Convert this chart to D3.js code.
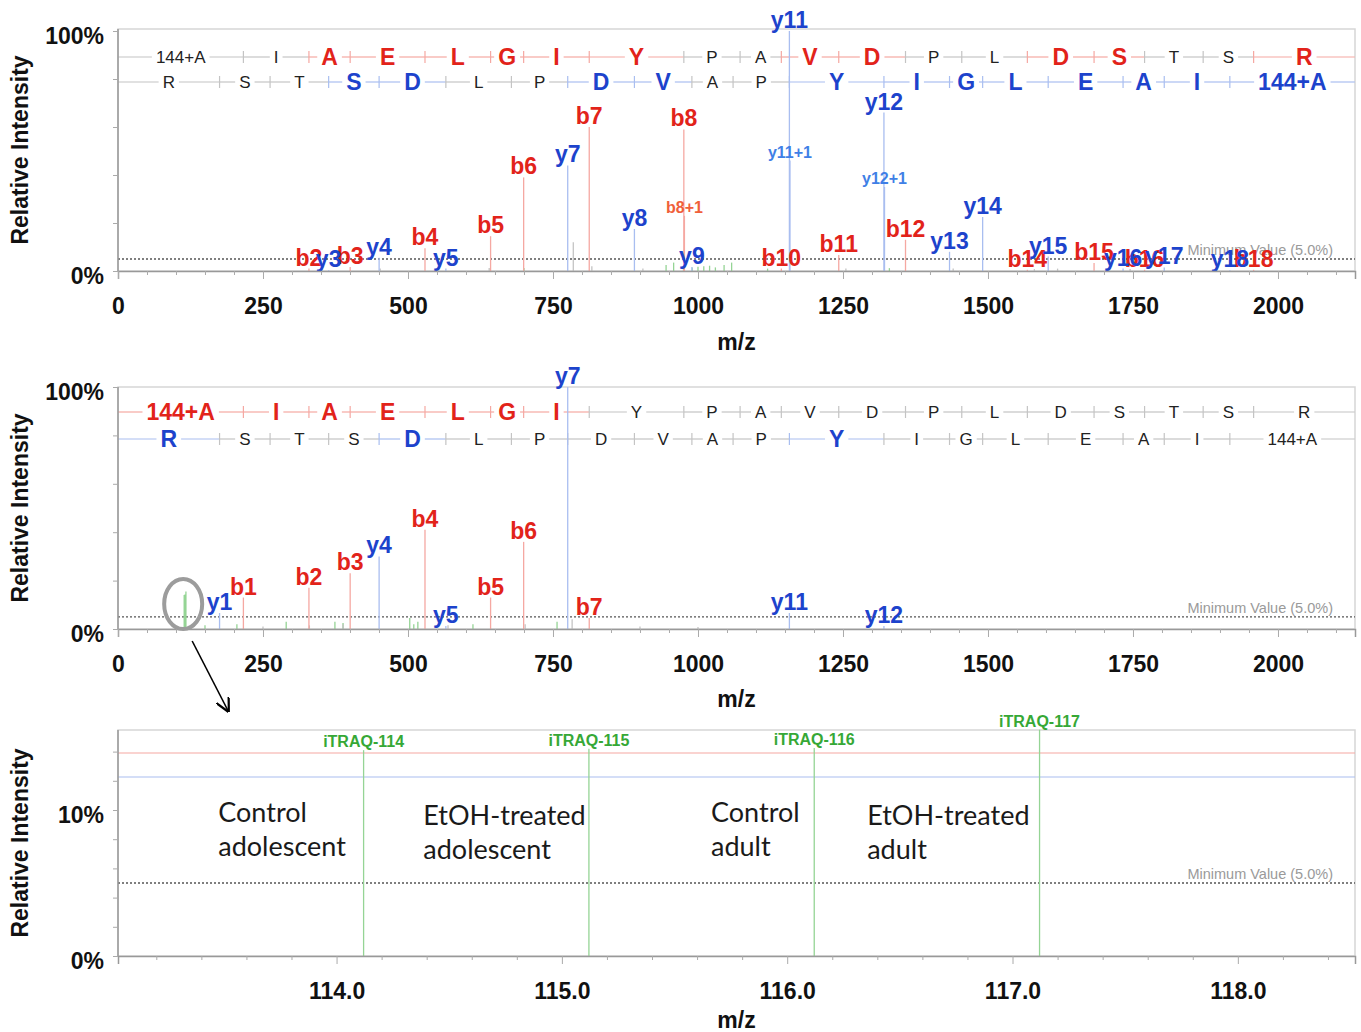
<!DOCTYPE html>
<html>
<head>
<meta charset="utf-8">
<script src="https://cdn.jsdelivr.net/npm/d3@7"></script>
<style>
  body { margin: 0; background: #fff; }
  svg { display: block; font-family: "Liberation Sans", Arial, sans-serif; }
</style>
</head>
<body>
<div id="chart"></div>
<script>
// peptide (iTRAQ-labelled N-term) and fragment m/z
const residues = ['144+A', 'I', 'A', 'E', 'L', 'G', 'I', 'Y', 'P', 'A', 'V', 'D', 'P', 'L', 'D', 'S', 'T', 'S', 'R'];
const bIonMz = [216.2, 329.2, 400.3, 529.3, 642.4, 699.4, 812.5, 975.6, 1072.6, 1143.7, 1242.7, 1357.8, 1454.8, 1567.9, 1682.9, 1770.0, 1871.0, 1958.0];
const yIonMz = [175.1, 262.2, 363.2, 450.2, 565.3, 678.3, 775.4, 890.4, 989.5, 1060.5, 1157.6, 1320.6, 1433.7, 1490.8, 1603.8, 1732.9, 1803.9, 1917.0];
const precursorMz = 2132.5;

// spectrum 1
const topBIons = [2, 3, 4, 5, 6, 7, 8, 10, 11, 12, 14, 15, 16, 18];
const topBInt = [1, 1.7, 9.5, 14.5, 39, 60, 59, 1, 6.7, 13, 0.5, 3.3, 0.5, 0.5];
const topYIons = [3, 4, 5, 7, 8, 9, 11, 12, 13, 14, 15, 16, 17, 18];
const topYInt = [0.3, 5.5, 1, 44, 17.5, 1.7, 100, 66, 8, 22.5, 6, 1, 1.5, 0.3];
const topIsoLabels = ['b8+1', 'y11+1', 'y12+1'];
const topIsoMz = [976.6, 1158.6, 1321.6];
const topIsoInt = [23, 46, 35];
const topGreenMz = [700, 945, 958, 975, 990, 1000, 1010, 1020, 1030, 1045, 1058, 1120, 1330];
const topGreenInt = [1.2, 2.5, 3.5, 1.5, 1.5, 1.8, 2, 2.2, 1.5, 2.5, 3.5, 1, 1.2];
const topGrayMz = [452, 640, 785, 817, 905, 1255, 1440, 1580, 1620, 1745];
const topGrayInt = [1, 1.2, 12, 2, 1, 1, 1, 0.8, 1, 0.8];

// spectrum 2
const midBIons = [1, 2, 3, 4, 5, 6, 7];
const midBInt = [13, 17, 23, 41, 13, 36, 4.5];
const midYIons = [1, 4, 5, 7, 11, 12];
const midYInt = [6.6, 30, 1.2, 100, 6.6, 1.2];
const midGreenMz = [150, 205, 290, 374, 388, 503, 510, 517, 612, 757];
const midGreenInt = [1.5, 2, 3, 3, 2.5, 4.5, 2, 3, 2, 3];
const midGrayMz = [250, 330, 388, 569, 702, 783, 900, 1000];
const midGrayInt = [1, 1.5, 2, 1.5, 2, 4, 1, 0.8];

// reporter ions
const itraqLabels = ['iTRAQ-114', 'iTRAQ-115', 'iTRAQ-116', 'iTRAQ-117'];
const itraqMz = [114.12, 115.12, 116.12, 117.12];
const itraqInt = [14.1, 14.2, 14.25, 15.5];
const groupLines = [['Control', 'adolescent'], ['EtOH-treated', 'adolescent'], ['Control', 'adult'], ['EtOH-treated', 'adult']];

const minValue = 5;

const W = 1361, H = 1032;
const L = 118, R = 1355;
const RED = '#e2231a', BLUE = '#1d43cc';
const RED_L = '#f5a8a2', BLUE_L = '#a9bef0', GREEN_L = '#95d495', GRAY_L = '#c4c4c4';

const svg = d3.select('#chart').append('svg').attr('width', W).attr('height', H);
const defs = svg.append('defs');
defs.append('marker').attr('id', 'arrow').attr('viewBox', '0 0 10 10').attr('refX', 9).attr('refY', 5)
  .attr('markerWidth', 14).attr('markerHeight', 14).attr('markerUnits', 'userSpaceOnUse').attr('orient', 'auto')
  .append('path').attr('d', 'M0,0 L10,5 L0,10').attr('fill', 'none').attr('stroke', '#000').attr('stroke-width', 1.6);

let clipId = 0;

function drawPanel(cfg) {
  const g = svg.append('g');
  const x = d3.scaleLinear().domain(cfg.xDomain).range([L, R]);
  const y = d3.scaleLinear().domain([0, cfg.yRef]).range([cfg.base, cfg.yRefPx]);

  // frame
  g.append('rect').attr('x', L).attr('y', cfg.borderTop).attr('width', R - L).attr('height', cfg.base - cfg.borderTop)
    .attr('fill', 'none').attr('stroke', '#d6d6d6').attr('stroke-width', 1.5);

  const cid = 'clip' + (clipId++);
  defs.append('clipPath').attr('id', cid).append('rect')
    .attr('x', L).attr('y', cfg.borderTop).attr('width', R - L).attr('height', cfg.base - cfg.borderTop);

  // sequence ladders
  const seqG = g.append('g').attr('clip-path', `url(#${cid})`);
  drawRow(seqG, x, cfg.rowY[0], residues, [0, ...bIonMz, precursorMz], cfg.bIons, RED, RED_L);
  drawRow(seqG, x, cfg.rowY[1], residues.slice().reverse(), [0, ...yIonMz, precursorMz], cfg.yIons, BLUE, BLUE_L);

  // minimum value line
  g.append('line').attr('x1', L).attr('x2', R).attr('y1', y(minValue)).attr('y2', y(minValue))
    .attr('stroke', '#555').attr('stroke-width', 1.3).attr('stroke-dasharray', '2,2');
  g.append('text').attr('x', 1333).attr('y', y(minValue) - 4).attr('text-anchor', 'end')
    .attr('font-size', 14.5).attr('fill', '#9a9a9a').text('Minimum Value (5.0%)');

  // peaks
  const peaks = [];
  (cfg.noise || []).forEach(n => n.mz.forEach((m, i) => peaks.push({ mz: m, v: n.int[i], color: n.color })));
  cfg.bIons.forEach((n, i) => peaks.push({ mz: bIonMz[n - 1], v: cfg.bInt[i], color: RED_L, label: 'b' + n, lc: RED, fs: 23 }));
  cfg.yIons.forEach((n, i) => peaks.push({ mz: yIonMz[n - 1], v: cfg.yInt[i], color: BLUE_L, label: 'y' + n, lc: BLUE, fs: 23 }));
  (cfg.extra || []).forEach(p => peaks.push(p));

  const visible = peaks.filter(p => p.mz >= cfg.xDomain[0] && p.mz <= cfg.xDomain[1]);
  g.append('g').selectAll('line').data(visible).join('line')
    .attr('x1', d => x(d.mz)).attr('x2', d => x(d.mz))
    .attr('y1', cfg.base).attr('y2', d => y(d.v))
    .attr('stroke', d => d.color).attr('stroke-width', 1.3);
  g.append('g').selectAll('text').data(visible.filter(d => d.label)).join('text')
    .attr('x', d => x(d.mz)).attr('y', d => y(d.v) - 3)
    .attr('text-anchor', 'middle').attr('font-weight', 'bold')
    .attr('font-size', d => d.fs).attr('fill', d => d.lc)
    .text(d => d.label);

  // x axis
  const xMajor = d3.axisBottom(x).tickValues(cfg.xMajor).tickSize(8).tickFormat(cfg.xFormat);
  const xMinor = d3.axisBottom(x).tickValues(cfg.xMinor).tickSize(4).tickFormat('');
  const xa = g.append('g').attr('transform', `translate(0,${cfg.base})`).call(xMajor);
  g.append('g').attr('transform', `translate(0,${cfg.base})`).call(xMinor).select('.domain').remove();
  xa.select('.domain').attr('stroke', '#999').attr('stroke-width', 1.5);
  g.selectAll('.tick line').attr('stroke', '#aaa');
  xa.selectAll('text').attr('y', 43).attr('dy', 0).attr('font-size', 23).attr('font-weight', 'bold')
    .attr('fill', '#111').attr('font-family', '"Liberation Sans", Arial, sans-serif');

  // y axis
  const ya = g.append('g').attr('transform', `translate(${L},0)`)
    .call(d3.axisLeft(y).tickValues(cfg.yTicks).tickSize(5).tickPadding(9)
      .tickFormat(v => cfg.yLabels.includes(v) ? v + '%' : ''));
  ya.select('.domain').attr('stroke', '#999').attr('stroke-width', 1.5)
    .attr('d', `M0,${cfg.borderTop}V${cfg.base}`);
  ya.selectAll('.tick line').attr('stroke', '#aaa');
  ya.selectAll('text').attr('dy', '0.55em').attr('font-size', 23).attr('font-weight', 'bold')
    .attr('fill', '#111').attr('font-family', '"Liberation Sans", Arial, sans-serif');

  // titles
  g.append('text').attr('transform', `translate(28,${(cfg.borderTop + cfg.base) / 2}) rotate(-90)`)
    .attr('text-anchor', 'middle').attr('font-size', 23).attr('font-weight', 'bold').attr('fill', '#111')
    .text('Relative Intensity');
  g.append('text').attr('x', (L + R) / 2).attr('y', cfg.base + cfg.mzDy).attr('text-anchor', 'middle')
    .attr('font-size', 23).attr('font-weight', 'bold').attr('fill', '#111').text('m/z');

  return { x, y, g };
}

function drawRow(g, x, cy, names, bounds, observed, strong, light) {
  const obs = new Set([0, names.length, ...observed]);
  names.forEach((name, i) => {
    const hi = obs.has(i) && obs.has(i + 1);
    const x0 = x(bounds[i]), x1 = x(bounds[i + 1]);
    const mid = (x0 + x1) / 2;
    const lc = hi ? light : GRAY_L;
    let w = 0;
    if (mid > L && mid < R) {
      const t = g.append('text').attr('x', mid).attr('y', cy).attr('dy', '0.36em').attr('text-anchor', 'middle')
        .attr('font-size', hi ? 23 : 17).attr('font-weight', hi ? 'bold' : 'normal')
        .attr('fill', hi ? strong : '#222').text(name);
      w = t.node().getComputedTextLength() + 8;
    }
    const a = Math.max(x0, L - 2), b = Math.min(x1, R + 2);
    g.insert('line', 'text').attr('x1', a).attr('x2', Math.max(a, mid - w / 2)).attr('y1', cy).attr('y2', cy)
      .attr('stroke', lc).attr('stroke-width', 1.2);
    g.insert('line', 'text').attr('x1', Math.min(b, mid + w / 2)).attr('x2', b).attr('y1', cy).attr('y2', cy)
      .attr('stroke', lc).attr('stroke-width', 1.2);
    if (i > 0 && x0 > L && x0 < R) {
      g.append('line').attr('x1', x0).attr('x2', x0).attr('y1', cy - 6).attr('y2', cy + 6)
        .attr('stroke', lc).attr('stroke-width', 1.2);
    }
  });
}

const fullMajor = d3.range(0, 2001, 250);
const fullMinor = d3.range(0, 2131, 50).filter(v => v % 250 !== 0);

// panel 1
drawPanel({
  xDomain: [0, 2132.8], base: 271, yRef: 100, yRefPx: 31, borderTop: 29, rowY: [57, 82],
  bIons: topBIons, bInt: topBInt, yIons: topYIons, yInt: topYInt,
  noise: [{ mz: topGreenMz, int: topGreenInt, color: GREEN_L }, { mz: topGrayMz, int: topGrayInt, color: GRAY_L }],
  extra: topIsoLabels.map((lab, i) => ({
    mz: topIsoMz[i], v: topIsoInt[i], label: lab, fs: 16,
    color: lab[0] === 'b' ? RED_L : BLUE_L, lc: lab[0] === 'b' ? '#f0603a' : '#3f7fe6'
  })),
  xMajor: fullMajor, xMinor: fullMinor, xFormat: d3.format('d'),
  yTicks: [0, 20, 40, 60, 80, 100], yLabels: [0, 100], mzDy: 79
});

// panel 2
const mid = drawPanel({
  xDomain: [0, 2132.8], base: 629, yRef: 100, yRefPx: 387, borderTop: 387, rowY: [412, 439],
  bIons: midBIons, bInt: midBInt, yIons: midYIons, yInt: midYInt,
  noise: [{ mz: midGreenMz, int: midGreenInt, color: GREEN_L }, { mz: midGrayMz, int: midGrayInt, color: GRAY_L },
          { mz: itraqMz, int: itraqInt, color: GREEN_L }],
  xMajor: fullMajor, xMinor: fullMinor, xFormat: d3.format('d'),
  yTicks: [0, 20, 40, 60, 80, 100], yLabels: [0, 100], mzDy: 78
});

// panel 3: reporter region
const bot = drawPanel({
  xDomain: [113.03, 118.52], base: 956, yRef: 10, yRefPx: 810, borderTop: 730, rowY: [753, 777],
  bIons: midBIons, bInt: midBInt, yIons: midYIons, yInt: midYInt,
  extra: itraqLabels.map((lab, i) => ({ mz: itraqMz[i], v: itraqInt[i], label: lab, fs: 16, color: GREEN_L, lc: '#36a836' })),
  xMajor: [114, 115, 116, 117, 118], xMinor: d3.range(113.2, 118.6, 0.2).filter(v => Math.abs(v - Math.round(v)) > 0.01),
  xFormat: d3.format('.1f'),
  yTicks: [0, 2, 4, 6, 8, 10, 12, 14], yLabels: [0, 10], mzDy: 72
});

// group annotations
const groupAnchorMz = [113.475, 114.385, 115.662, 116.355];
const groupBase = [822, 825, 822, 825];
groupLines.forEach((lines, i) => {
  const t = bot.g.append('text').attr('x', bot.x(groupAnchorMz[i])).attr('y', groupBase[i])
    .attr('font-family', 'Lato, "Open Sans", sans-serif').attr('font-size', 27).attr('fill', '#1a1a1a');
  lines.forEach((s, j) => t.append('tspan').attr('x', bot.x(groupAnchorMz[i])).attr('dy', j ? 34 : 0).text(s));
});

// zoom marker
const cx = mid.x(114.1);
svg.append('ellipse').attr('cx', cx - 1).attr('cy', 604).attr('rx', 19).attr('ry', 25)
  .attr('fill', 'none').attr('stroke', '#9c9c9c').attr('stroke-width', 4);
svg.append('line').attr('x1', cx + 8).attr('y1', 641).attr('x2', cx + 44).attr('y2', 711)
  .attr('stroke', '#000').attr('stroke-width', 1.6).attr('marker-end', 'url(#arrow)');
</script>
</body>
</html>
